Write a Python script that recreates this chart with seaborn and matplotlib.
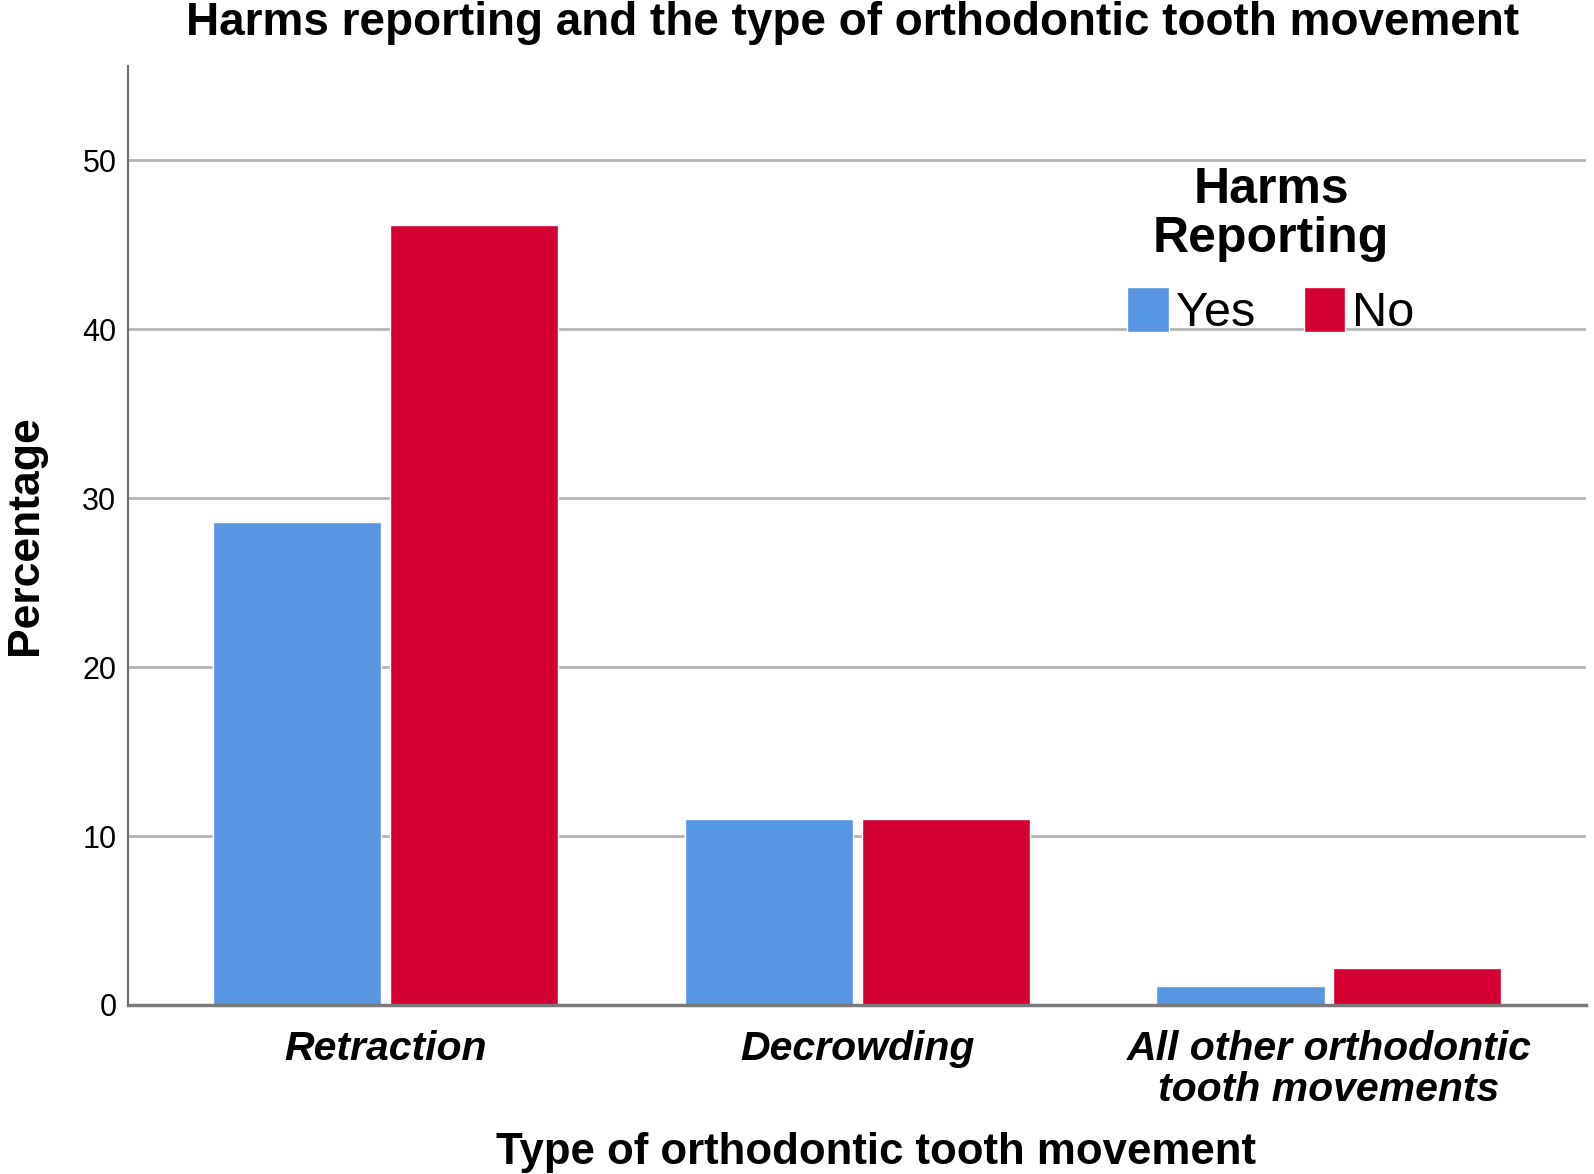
import matplotlib.pyplot as plt
import seaborn as sns
import pandas as pd

categories = ["Retraction", "Decrowding", "All other orthodontic\ntooth movements"]
harms_levels = ["Yes", "No"]
pct_yes = [28.6, 11.0, 1.1]
pct_no = [46.2, 11.0, 2.2]

df = pd.DataFrame({
    "movement": categories * 2,
    "harms": ["Yes"] * 3 + ["No"] * 3,
    "pct": pct_yes + pct_no,
})

sns.set_style("white")
plt.rcParams["font.family"] = ["Liberation Sans", "DejaVu Sans"]
plt.rcParams["text.color"] = "black"
plt.rcParams["axes.labelcolor"] = "black"
plt.rcParams["xtick.color"] = "black"
plt.rcParams["ytick.color"] = "black"

fig = plt.figure(figsize=(15.94, 11.74), dpi=100)
ax = fig.add_axes([0.08, 0.144, 0.915, 0.8])

sns.barplot(
    data=df,
    x="movement",
    y="pct",
    hue="harms",
    hue_order=harms_levels,
    order=categories,
    palette={"Yes": "#5796E3", "No": "#D50032"},
    width=0.75,
    gap=0.05,
    saturation=1,
    ax=ax,
)

ax.set_ylim(0, 55.6)
ax.set_xlim(-0.547, 2.545)
ax.set_yticks([0, 10, 20, 30, 40, 50])
ax.yaxis.grid(True, color="#b4b4b4", linewidth=2)
ax.set_axisbelow(True)
for s in ["top", "right"]:
    ax.spines[s].set_visible(False)
ax.spines["left"].set_color("#6e6e6e")
ax.spines["left"].set_linewidth(1.5)
ax.spines["bottom"].set_color("#7a7a7a")
ax.spines["bottom"].set_linewidth(2.5)

ax.tick_params(axis="y", labelsize=22, length=0, pad=8)
ax.tick_params(axis="x", labelsize=29.5, length=0, pad=18)
for lab in ax.get_xticklabels():
    lab.set_fontstyle("italic")
    lab.set_fontweight("bold")
    lab.set_linespacing(1.1)

ax.set_xlabel("Type of orthodontic tooth movement", fontsize=31.5, fontweight="bold", labelpad=14)
ax.xaxis.set_label_coords(0.513, -0.135)
ax.set_ylabel("Percentage", fontsize=32, fontweight="bold", labelpad=26)
fig.suptitle("Harms reporting and the type of orthodontic tooth movement",
             fontsize=33, fontweight="bold", x=0.535, y=0.999, va="top")

leg = ax.legend(
    title="Harms\nReporting",
    ncol=2,
    frameon=False,
    loc="upper center",
    bbox_to_anchor=(0.784, 0.913),
    fontsize=35,
    title_fontsize=36,
    handlelength=0.85,
    handleheight=1.05,
    handletextpad=0.15,
    columnspacing=1.0,
    borderaxespad=0,
)
leg.get_title().set_fontweight("bold")
leg.get_title().set_linespacing(1.1)
leg.get_title().set_multialignment("center")

plt.savefig("out.png", dpi=100)
